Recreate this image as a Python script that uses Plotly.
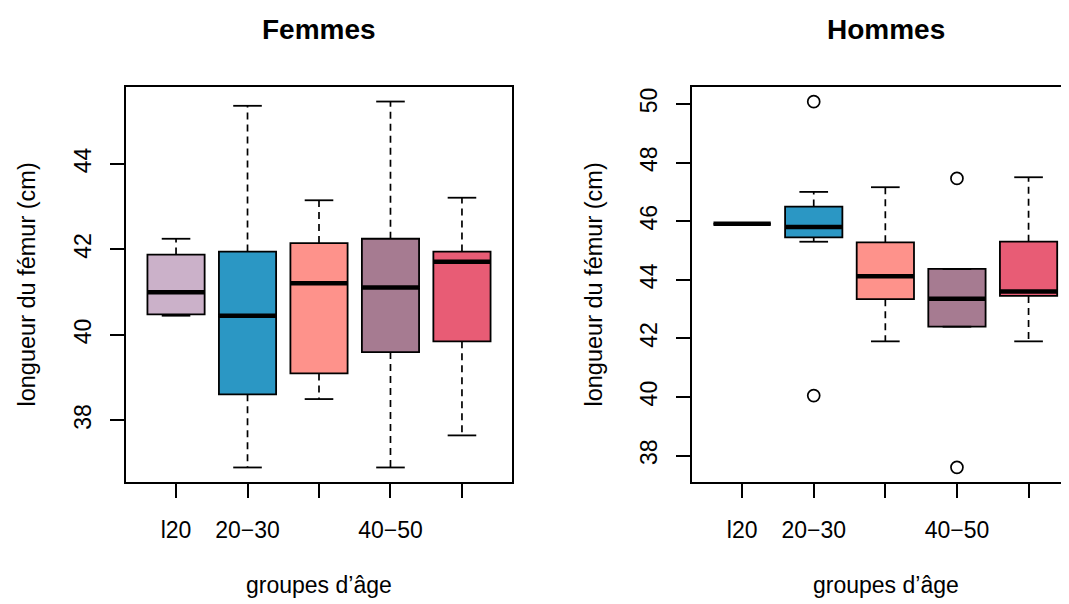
import plotly.graph_objects as go

# groupes d'âge (label shown under the tick; R dropped the overlapping ones)
groups = ["l20", "20−30", "30−40", "40−50", "g50"]
tick_text = ["l20", "20−30", "", "40−50", ""]
colors = ["#CBB1C9", "#2B97C4", "#FE928B", "#A67B91", "#E85C75"]

# Femmes: five-number summaries
f_low = [40.45, 36.9, 38.5, 36.9, 37.65]
f_q1 = [40.48, 38.61, 39.1, 39.6, 39.85]
f_med = [41.0, 40.45, 41.21, 41.11, 41.71]
f_q3 = [41.88, 41.95, 42.15, 42.25, 41.95]
f_high = [42.25, 45.36, 43.15, 45.46, 43.21]
f_out_x = []
f_out_y = []

# Hommes
h_low = [45.91, 45.3, 41.9, 42.4, 41.9]
h_q1 = [45.91, 45.45, 43.34, 42.4, 43.45]
h_med = [45.91, 45.8, 44.12, 43.35, 43.6]
h_q3 = [45.91, 46.5, 45.28, 44.37, 45.3]
h_high = [45.91, 47.0, 47.16, 44.37, 47.5]
h_out_x = [2, 2, 4, 4]
h_out_y = [50.08, 40.05, 47.46, 37.6]

FONT = "Liberation Sans, Arial, Helvetica, sans-serif"
W, H = 1069, 604
OFF = 8  # page body margin pushes the figure down/right
BOXW = 0.8


def px(sx):
    return (sx - OFF) / W


def py(sy):
    return 1 - (sy - OFF) / H


fig = go.Figure()


def add_panel(xa, ya, low, q1, med, q3, high, out_x, out_y):
    pos = list(range(1, len(groups) + 1))
    # dashed whiskers, drawn first
    wx, wy = [], []
    for p, lo, a, b, hi in zip(pos, low, q1, q3, high):
        wx += [p, p, None, p, p, None]
        wy += [b, hi, None, a, lo, None]
    fig.add_trace(go.Scatter(x=wx, y=wy, mode="lines", xaxis=xa, yaxis=ya,
                             line=dict(color="black", width=1.7, dash="7px,5px"),
                             hoverinfo="skip", showlegend=False))
    # staples
    sx, sy = [], []
    for p, lo, hi in zip(pos, low, high):
        sx += [p - BOXW / 4, p + BOXW / 4, None, p - BOXW / 4, p + BOXW / 4, None]
        sy += [hi, hi, None, lo, lo, None]
    fig.add_trace(go.Scatter(x=sx, y=sy, mode="lines", xaxis=xa, yaxis=ya,
                             line=dict(color="black", width=1.8),
                             hoverinfo="skip", showlegend=False))
    # boxes
    for i, p in enumerate(pos):
        fig.add_trace(go.Box(
            x=[p], q1=[q1[i]], median=[med[i]], q3=[q3[i]],
            lowerfence=[q1[i]], upperfence=[q3[i]],
            width=BOXW, fillcolor=colors[i], name=groups[i],
            line=dict(color="black", width=1.8), whiskerwidth=0,
            boxpoints=False, xaxis=xa, yaxis=ya, showlegend=False,
        ))
    # thick medians
    mx, my = [], []
    for p, m in zip(pos, med):
        mx += [p - BOXW / 2, p + BOXW / 2, None]
        my += [m, m, None]
    fig.add_trace(go.Scatter(x=mx, y=my, mode="lines", xaxis=xa, yaxis=ya,
                             line=dict(color="black", width=4.5),
                             hoverinfo="skip", showlegend=False))
    if out_x:
        fig.add_trace(go.Scatter(
            x=out_x, y=out_y, mode="markers", xaxis=xa, yaxis=ya,
            marker=dict(symbol="circle-open", size=12, color="black",
                        line=dict(width=1.7)),
            hoverinfo="skip", showlegend=False))


add_panel("x", "y", f_low, f_q1, f_med, f_q3, f_high, f_out_x, f_out_y)
add_panel("x2", "y2", h_low, h_q1, h_med, h_q3, h_high, h_out_x, h_out_y)

ydom = [py(482), py(87)]
common_x = dict(
    tickmode="array", tickvals=[1, 2, 3, 4, 5], ticktext=tick_text,
    showgrid=False, zeroline=False, showline=True, linecolor="black", linewidth=1.8,
    ticks="outside", ticklen=14, tickwidth=1.8, tickcolor="black",
    tickfont=dict(family=FONT, size=23, color="black"), ticklabelstandoff=12,
)
common_y = dict(
    showgrid=False, zeroline=False, showline=True, linecolor="black", linewidth=1.8,
    ticks="outside", ticklen=14, tickwidth=1.8, tickcolor="black", tickangle=-90,
    tickfont=dict(family=FONT, size=23, color="black"), ticklabelstandoff=10,
)

# right panel runs past the window edge (x = 5.7 sits at ~1079 px)
x2_end = 5.0 + (1077 - 1028.7) / 71.4

fig.update_layout(
    width=W, height=H,
    margin=dict(l=0, r=0, t=0, b=0),
    paper_bgcolor="white", plot_bgcolor="white",
    boxmode="overlay",
    xaxis=dict(domain=[px(126), px(512)], range=[0.3, 5.7], anchor="y",
               mirror=True, **common_x),
    yaxis=dict(domain=ydom, range=[36.56, 45.8], anchor="x", mirror=True,
               tickvals=[38, 40, 42, 44], **common_y),
    xaxis2=dict(domain=[px(692), 1.0], range=[0.3, x2_end], anchor="y2",
                mirror=True, **common_x),
    yaxis2=dict(domain=ydom, range=[37.1, 50.58], anchor="x2",
                tickvals=[38, 40, 42, 44, 46, 48, 50], **common_y),
)

annos = [
    dict(text="<b>Femmes</b>", x=319, y=29, size=28, angle=0),
    dict(text="<b>Hommes</b>", x=886, y=29, size=28, angle=0),
    dict(text="groupes d’âge", x=319, y=585, size=23, angle=0),
    dict(text="groupes d’âge", x=886, y=585, size=23, angle=0),
    dict(text="longueur du fémur (cm)", x=26, y=284.5, size=23.5, angle=-90),
    dict(text="longueur du fémur (cm)", x=593, y=284.5, size=23.5, angle=-90),
]
for a in annos:
    fig.add_annotation(
        text=a["text"], x=px(a["x"]), y=py(a["y"]), xref="paper", yref="paper",
        xanchor="center", yanchor="middle", showarrow=False, textangle=a["angle"],
        font=dict(family=FONT, size=a["size"], color="black"),
    )

fig.write_html("out.html")
